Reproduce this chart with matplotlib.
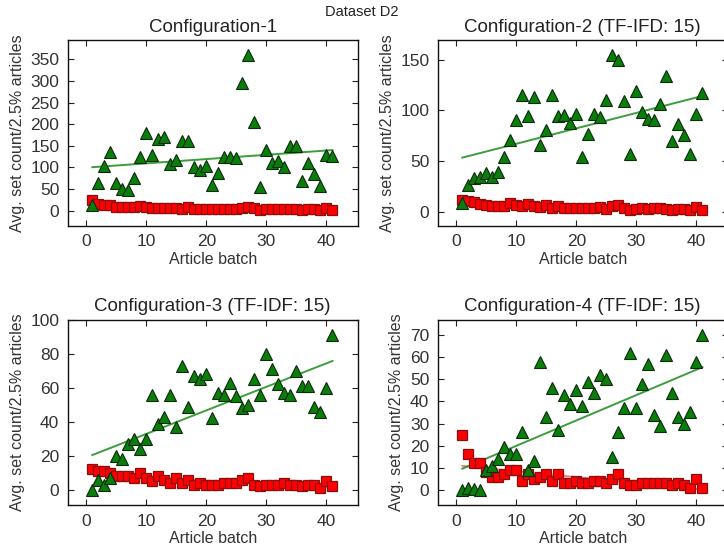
import numpy as np
import matplotlib
matplotlib.use("Agg")
import matplotlib.pyplot as plt
from matplotlib.ticker import MultipleLocator

plt.rcParams['font.family'] = ['Liberation Sans', 'DejaVu Sans']

batches = list(range(1, 42))

titles = ["Configuration-1", "Configuration-2 (TF-IFD: 15)",
          "Configuration-3 (TF-IDF: 15)", "Configuration-4 (TF-IDF: 15)"]
y_steps = [50, 50, 20, 10]

green1 = [14, 63, 103, 135, 64, 50, 48, 75, 123, 179, 128, 165, 170, 107, 118, 162, 160, 101, 95, 103,
          60, 86, 124, 123, 121, 295, 359, 206, 54, 140, 111, 115, 101, 150, 150, 68, 111, 84, 58, 128, 126]
red1 = [25, 16, 13, 12, 8, 8, 8, 8, 10, 9, 6, 6, 6, 5, 7, 3, 8, 3, 3, 3,
        3, 3, 3, 3, 4, 7, 9, 5, 2, 3, 3, 3, 3, 3, 3, 1, 3, 3, 2, 6, 1]

green2 = [9, 27, 34, 35, 39, 35, 40, 54, 71, 91, 115, 95, 113, 66, 81, 115, 95, 96, 88, 97,
          54, 77, 97, 94, 110, 154, 150, 109, 57, 119, 98, 92, 91, 106, 134, 70, 87, 76, 57, 97, 117]
red2 = [12, 11, 10, 8, 7, 6, 6, 6, 9, 7, 6, 8, 6, 5, 7, 4, 6, 4, 4, 4,
        4, 4, 4, 5, 3, 6, 7, 4, 2, 3, 4, 3, 4, 4, 3, 2, 3, 3, 2, 5, 2]

green3 = [0, 6, 3, 7, 20, 18, 27, 30, 24, 30, 56, 39, 43, 56, 37, 73, 49, 67, 65, 68,
          42, 57, 56, 63, 55, 48, 50, 65, 56, 80, 71, 62, 57, 56, 70, 61, 61, 49, 46, 60, 91]
red3 = [12, 11, 11, 10, 8, 8, 8, 7, 10, 7, 5, 8, 6, 4, 7, 4, 6, 3, 4, 3,
        3, 3, 4, 4, 4, 6, 7, 3, 2, 3, 3, 3, 4, 3, 3, 2, 3, 3, 1, 5, 2]

green4 = [0, 1, 0.5, 0, 9, 11, 14, 19.5, 16, 16, 26, 9, 13, 58, 33, 46, 27, 43, 39, 45,
          38, 49, 44, 52, 50, 15, 26, 37, 62, 37, 48, 57, 34, 29, 61, 44, 33, 30, 35, 58, 70]
red4 = [25, 16, 12, 12, 8, 6, 6, 7, 9, 9, 4, 7, 5, 6, 7, 4, 7, 3, 3, 4,
        3, 3, 4, 4, 3, 5, 7, 3, 2, 2, 3, 3, 3, 3, 3, 2, 3, 2, 1, 5, 1]

greens = [green1, green2, green3, green4]
reds = [red1, red2, red3, red4]

W, H = 724, 552
fig = plt.figure(figsize=(W / 100, H / 100), dpi=100)

# axes boxes in pixels: (left, top, width, height)
boxes = [(67.7, 40, 290, 185.7), (437.7, 40, 290, 185.7),
         (67.7, 319.7, 290, 185.6), (437.7, 319.7, 290, 185.6)]

x = np.array(batches, dtype=float)
for i in range(4):
    l, t, w, h = boxes[i]
    ax = fig.add_axes([l / W, 1 - (t + h) / H, w / W, h / H])
    g = np.array(greens[i], dtype=float)
    r = np.array(reds[i], dtype=float)
    # trend lines
    pr = np.polyfit(x, r, 1)
    ax.plot(x, np.polyval(pr, x), color='#ff5050', lw=1.3, alpha=0.8, zorder=1)
    pg = np.polyfit(x, g, 1)
    ax.plot(x, np.polyval(pg, x), color='#1a8c1a', lw=1.4, alpha=0.85, zorder=1)
    ax.plot(x, r, linestyle='none', marker='s', ms=7.6, mfc='#ff0000',
            mec='#8a1010', mew=0.9, zorder=2)
    ax.plot(x, g, linestyle='none', marker='^', ms=9, mfc='#0b7d0b',
            mec='#0a2a0a', mew=0.8, zorder=3)
    ymin = min(g.min(), r.min())
    ymax = max(g.max(), r.max())
    span = ymax - ymin
    ax.set_ylim(ymin - 0.1 * span, ymax + 0.1 * span)
    ax.yaxis.set_major_locator(MultipleLocator(y_steps[i]))
    ax.set_xlim(-3.1, 45.2)
    ax.set_xticks([0, 10, 20, 30, 40])
    ax.tick_params(direction='in', top=True, right=True, length=4, width=0.8,
                   labelsize=12.5, pad=6, colors='#222222', labelcolor='#333333')
    for s in ax.spines.values():
        s.set_linewidth(1.0)
        s.set_color('#111111')
    ax.set_title(titles[i], fontsize=13.5, color='#222222', pad=6)
    ax.set_xlabel("Article batch", fontsize=11.5, color='#333333', labelpad=2)
    ax.set_ylabel("Avg. set count/2.5% articles", fontsize=11.5, color='#333333', labelpad=4)

fig.text(0.5, 1 - 12 / H, "Dataset D2", ha='center', va='center', fontsize=10.5, color='#222222')

fig.savefig("out.png", dpi=100)
